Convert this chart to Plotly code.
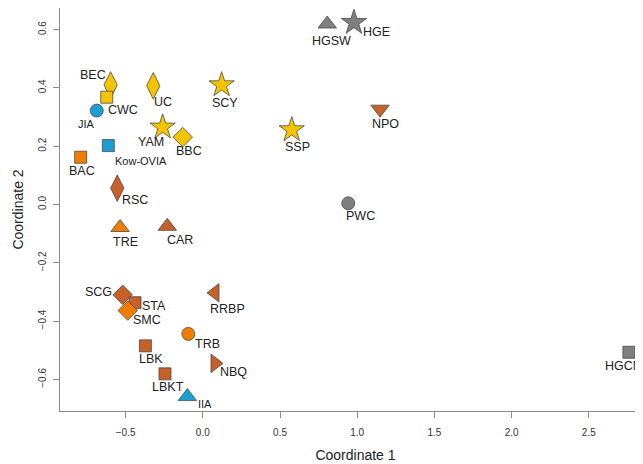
import plotly.graph_objects as go

# ---- data ----
sites = ["BEC", "CWC", "JIA", "UC", "SCY", "YAM", "BBC", "Kow-OVIA", "BAC", "RSC",
         "TRE", "CAR", "SCG", "STA", "SMC", "RRBP", "TRB", "LBK", "NBQ", "LBKT", "IIA",
         "HGSW", "HGE", "NPO", "SSP", "PWC", "HGCN"]
coord1 = [-0.597, -0.622, -0.687, -0.321, 0.122, -0.260, -0.130, -0.612, -0.791, -0.554,
          -0.536, -0.230, -0.519, -0.439, -0.486, 0.079, -0.094, -0.372, 0.079, -0.245, -0.100,
          0.806, 0.979, 1.148, 0.576, 0.942, 2.760]
coord2 = [0.410, 0.368, 0.322, 0.407, 0.410, 0.265, 0.231, 0.202, 0.162, 0.056,
          -0.079, -0.075, -0.310, -0.337, -0.364, -0.303, -0.444, -0.485, -0.545, -0.581, -0.659,
          0.619, 0.624, 0.327, 0.256, 0.004, -0.507]
group = ["yellow", "yellow", "blue", "yellow", "yellow", "yellow", "yellow", "blue", "orange", "brown",
         "orange", "brown", "brown", "brown", "orange", "brown", "orange", "brown", "brown", "brown", "blue",
         "gray", "gray", "brown", "yellow", "gray", "gray"]
shape = ["diamond-tall", "square", "circle", "diamond-tall", "star", "star", "diamond", "square", "square", "diamond-tall",
         "triangle-up", "triangle-up", "diamond", "square", "diamond", "triangle-left", "circle", "square", "triangle-right", "square", "triangle-up",
         "triangle-up", "star", "triangle-down", "star", "circle", "square"]

# ---- styles ----
palette = {"yellow": "#F5C400", "orange": "#F07D00", "brown": "#C8602A",
           "blue": "#1A9ED4", "gray": "#7F7F7F"}
sym_size = {"diamond-tall": 19, "diamond": 15, "square": 12, "circle": 13, "star": 19,
            "triangle-up": 16, "triangle-down": 16, "triangle-left": 16, "triangle-right": 16}
# label offsets in pixels (dx, dy; dy positive = down)
label_off = {"BEC": (-18, -10), "CWC": (16, 13), "JIA": (-10, 13), "UC": (10, 16), "SCY": (3, 18),
             "YAM": (-12, 15), "BBC": (6, 14), "Kow-OVIA": (33, 15), "BAC": (1, 14), "RSC": (18, 12),
             "TRE": (5, 14), "CAR": (13, 14), "SCG": (-24, -3), "STA": (19, 3), "SMC": (19, 9),
             "RRBP": (12, 16), "TRB": (19, 10), "LBK": (6, 13), "NBQ": (18, 9), "LBKT": (3, 13),
             "IIA": (18, 7), "HGSW": (4, 17), "HGE": (23, 9), "NPO": (5, 15), "SSP": (6, 17),
             "PWC": (12, 13), "HGCN": (-5, 14)}
small = {"JIA", "Kow-OVIA", "IIA"}

fig = go.Figure()
fig.add_trace(go.Scatter(
    x=coord1, y=coord2, mode="markers",
    marker=dict(symbol=shape, size=[sym_size[s] for s in shape],
                color=[palette[g] for g in group], opacity=1,
                line=dict(color="#4a4a4a", width=0.8)),
    hoverinfo="text", text=sites, showlegend=False, cliponaxis=False))

for name, xv, yv in zip(sites, coord1, coord2):
    dx, dy = label_off[name]
    fig.add_annotation(x=xv, y=yv, text=name, showarrow=False,
                       xshift=dx, yshift=-dy,
                       font=dict(family="Liberation Sans, Arial, sans-serif",
                                 size=11 if name in small else 12.5, color="#222"))

axis_common = dict(showline=True, linecolor="#8a8a8a", linewidth=1.3, mirror=True,
                   ticks="outside", ticklen=6, tickcolor="#8a8a8a", tickwidth=1,
                   showgrid=False, zeroline=False, automargin=False,
                   tickfont=dict(family="Liberation Sans, Arial, sans-serif", size=10, color="#333"))

# page body has an 8px default margin, so margins are compensated
fig.update_layout(
    width=643, height=464,
    margin=dict(l=52, r=0, t=0, b=61),
    plot_bgcolor="white", paper_bgcolor="white",
    xaxis=dict(range=[-0.925, 2.903], tickvals=[-0.5, 0, 0.5, 1.0, 1.5, 2.0, 2.5],
               ticktext=["\u22120.5", "0.0", "0.5", "1.0", "1.5", "2.0", "2.5"],
               ticklabelstandoff=6,
               title=dict(text="Coordinate 1", standoff=13,
                          font=dict(family="Liberation Sans, Arial, sans-serif", size=14, color="#222")),
               **axis_common),
    yaxis=dict(range=[-0.7085, 0.674], tickvals=[-0.6, -0.4, -0.2, 0, 0.2, 0.4, 0.6],
               ticktext=["\u22120.6", "\u22120.4", "\u22120.2", "0.0", "0.2", "0.4", "0.6"],
               tickangle=-90, ticklabelstandoff=3,
               title=dict(text="Coordinate 2", standoff=9,
                          font=dict(family="Liberation Sans, Arial, sans-serif", size=14, color="#222")),
               **axis_common),
)

fig.write_html("out.html")
